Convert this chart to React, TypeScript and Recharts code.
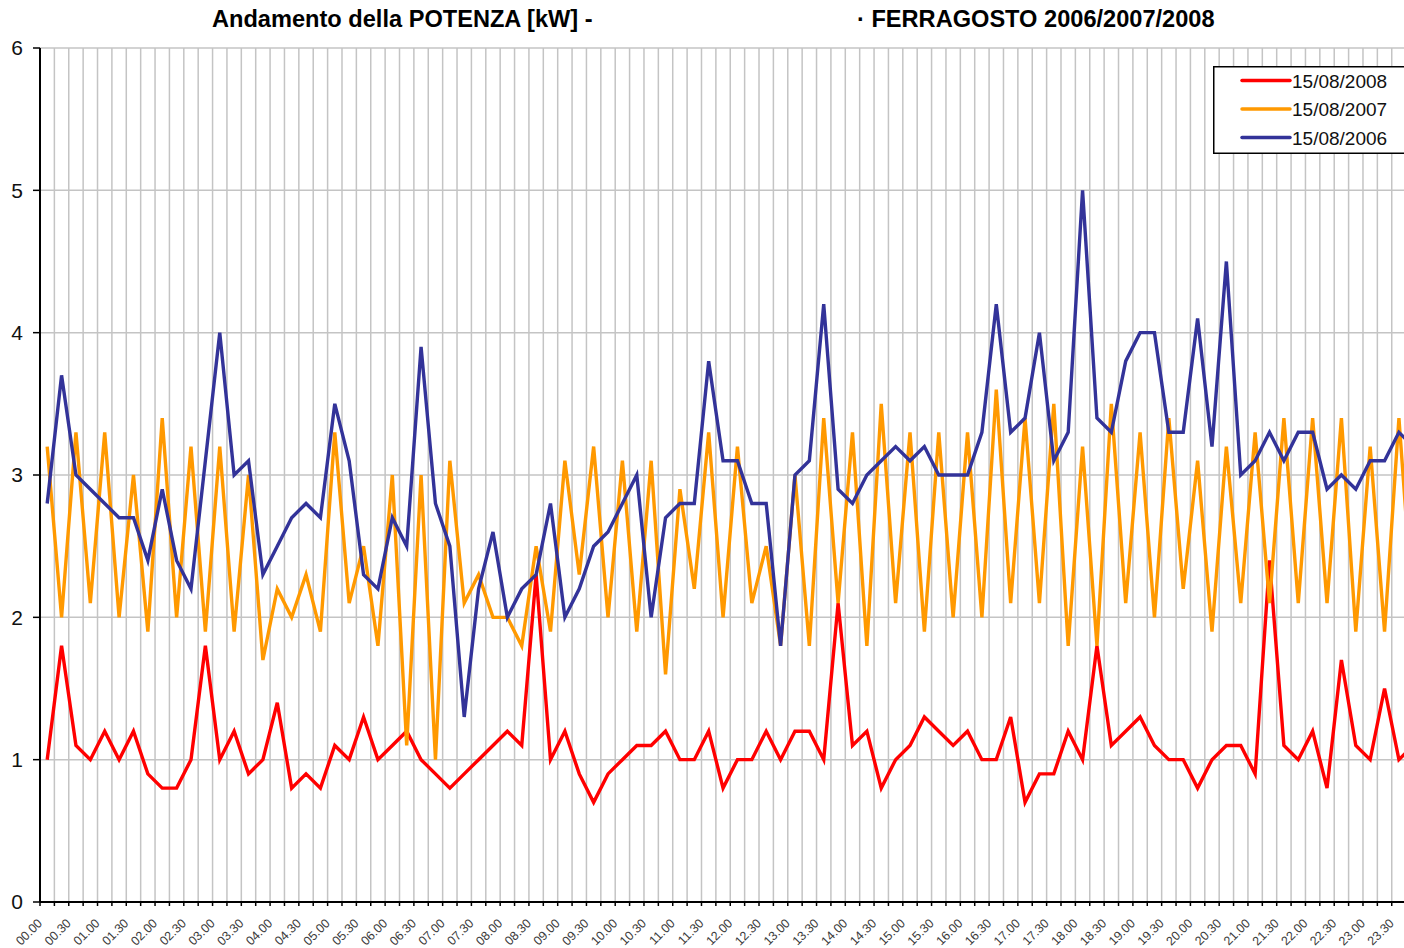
import { LineChart, Line, XAxis, YAxis, CartesianGrid, Legend } from "recharts";

// potenza [kW] ogni 15 minuti, 15/08
const P2008 = [
  1.0, 1.8, 1.1, 1.0, 1.2, 1.0, 1.2, 0.9, 0.8, 0.8, 1.0, 1.8, 1.0, 1.2, 0.9, 1.0,
  1.4, 0.8, 0.9, 0.8, 1.1, 1.0, 1.3, 1.0, 1.1, 1.2, 1.0, 0.9, 0.8, 0.9, 1.0, 1.1,
  1.2, 1.1, 2.3, 1.0, 1.2, 0.9, 0.7, 0.9, 1.0, 1.1, 1.1, 1.2, 1.0, 1.0, 1.2, 0.8,
  1.0, 1.0, 1.2, 1.0, 1.2, 1.2, 1.0, 2.1, 1.1, 1.2, 0.8, 1.0, 1.1, 1.3, 1.2, 1.1,
  1.2, 1.0, 1.0, 1.3, 0.7, 0.9, 0.9, 1.2, 1.0, 1.8, 1.1, 1.2, 1.3, 1.1, 1.0, 1.0,
  0.8, 1.0, 1.1, 1.1, 0.9, 2.4, 1.1, 1.0, 1.2, 0.8, 1.7, 1.1, 1.0, 1.5, 1.0, 1.1,
];

const P2007 = [
  3.2, 2.0, 3.3, 2.1, 3.3, 2.0, 3.0, 1.9, 3.4, 2.0, 3.2, 1.9, 3.2, 1.9, 3.0, 1.7,
  2.2, 2.0, 2.3, 1.9, 3.3, 2.1, 2.5, 1.8, 3.0, 1.1, 3.0, 1.0, 3.1, 2.1, 2.3, 2.0,
  2.0, 1.8, 2.5, 1.9, 3.1, 2.3, 3.2, 2.0, 3.1, 1.9, 3.1, 1.6, 2.9, 2.2, 3.3, 2.0,
  3.2, 2.1, 2.5, 1.8, 3.0, 1.8, 3.4, 2.1, 3.3, 1.8, 3.5, 2.1, 3.3, 1.9, 3.3, 2.0,
  3.3, 2.0, 3.6, 2.1, 3.4, 2.1, 3.5, 1.8, 3.2, 1.8, 3.5, 2.1, 3.3, 2.0, 3.4, 2.2,
  3.1, 1.9, 3.2, 2.1, 3.3, 2.1, 3.4, 2.1, 3.4, 2.1, 3.4, 1.9, 3.2, 1.9, 3.4, 2.0,
];

const P2006 = [
  2.8, 3.7, 3.0, 2.9, 2.8, 2.7, 2.7, 2.4, 2.9, 2.4, 2.2, 3.1, 4.0, 3.0, 3.1, 2.3,
  2.5, 2.7, 2.8, 2.7, 3.5, 3.1, 2.3, 2.2, 2.7, 2.5, 3.9, 2.8, 2.5, 1.3, 2.2, 2.6,
  2.0, 2.2, 2.3, 2.8, 2.0, 2.2, 2.5, 2.6, 2.8, 3.0, 2.0, 2.7, 2.8, 2.8, 3.8, 3.1,
  3.1, 2.8, 2.8, 1.8, 3.0, 3.1, 4.2, 2.9, 2.8, 3.0, 3.1, 3.2, 3.1, 3.2, 3.0, 3.0,
  3.0, 3.3, 4.2, 3.3, 3.4, 4.0, 3.1, 3.3, 5.0, 3.4, 3.3, 3.8, 4.0, 4.0, 3.3, 3.3,
  4.1, 3.2, 4.5, 3.0, 3.1, 3.3, 3.1, 3.3, 3.3, 2.9, 3.0, 2.9, 3.1, 3.1, 3.3, 3.2,
];

const TIME_LABELS = [
  "00.00", "00.30", "01.00", "01.30", "02.00", "02.30", "03.00", "03.30",
  "04.00", "04.30", "05.00", "05.30", "06.00", "06.30", "07.00", "07.30",
  "08.00", "08.30", "09.00", "09.30", "10.00", "10.30", "11.00", "11.30",
  "12.00", "12.30", "13.00", "13.30", "14.00", "14.30", "15.00", "15.30",
  "16.00", "16.30", "17.00", "17.30", "18.00", "18.30", "19.00", "19.30",
  "20.00", "20.30", "21.00", "21.30", "22.00", "22.30", "23.00", "23.30",
];

const Y_TICKS = [0, 1, 2, 3, 4, 5, 6];

const SERIES = [
  { key: "d2008", name: "15/08/2008", color: "#FF0000" },
  { key: "d2007", name: "15/08/2007", color: "#FF9900" },
  { key: "d2006", name: "15/08/2006", color: "#333399" },
];

const FONT = "'Liberation Sans', Arial, sans-serif";

// each point sits in the middle of its 15-minute slot
const data = P2008.map((v, i) => ({
  x: i + 0.5,
  d2008: v,
  d2007: P2007[i],
  d2006: P2006[i],
}));

const slotTicks = Array.from({ length: 97 }, (_, k) => k);

function TimeTick(props: any) {
  const { x, y, payload } = props;
  const k = payload.value;
  if (k % 2 !== 0 || k / 2 >= TIME_LABELS.length) return <g />;
  const tx = x + 3;
  const ty = y + 18;
  return (
    <text
      x={tx}
      y={ty}
      textAnchor="end"
      transform={`rotate(-45, ${tx}, ${ty})`}
      fontSize={12.5}
      fontFamily={FONT}
      fill="#3a3a3a"
    >
      {TIME_LABELS[k / 2]}
    </text>
  );
}

function LegendBox() {
  return (
    <svg width={210} height={88} style={{ display: "block" }}>
      <rect x={0.75} y={0.75} width={220} height={86.5} fill="#fff" stroke="#000" strokeWidth={1.5} />
      {SERIES.map((s, i) => {
        const cy = 14.5 + i * 28.5;
        return (
          <g key={s.key}>
            <line x1={29} y1={cy} x2={77} y2={cy} stroke={s.color} strokeWidth={3.5} strokeLinecap="round" />
            <text x={79} y={cy + 7} fontSize={19} fontFamily={FONT} fill="#111">
              {s.name}
            </text>
          </g>
        );
      })}
    </svg>
  );
}

const titleStyle = {
  position: "absolute" as const,
  top: 8,
  fontSize: 23.6,
  lineHeight: "23px",
  fontWeight: "bold" as const,
  whiteSpace: "nowrap" as const,
};

export default function App() {
  return (
    <div
      style={{
        position: "absolute",
        left: 0,
        top: 0,
        width: 1404,
        height: 948,
        overflow: "hidden",
        background: "#fff",
        fontFamily: FONT,
      }}
    >
      <div style={{ ...titleStyle, left: 212 }}>Andamento della POTENZA [kW] -</div>
      <div style={{ ...titleStyle, left: 857 }}>· FERRAGOSTO 2006/2007/2008</div>
      <LineChart
        width={1440}
        height={948}
        data={data}
        margin={{ top: 48, right: 19.5, bottom: 6, left: 10 }}
      >
        <CartesianGrid stroke="#c4c4c4" strokeWidth={1.5} />
        <XAxis
          dataKey="x"
          type="number"
          domain={[0, 96]}
          ticks={slotTicks}
          interval={0}
          height={40}
          tickSize={4}
          tickMargin={0}
          tick={<TimeTick />}
          axisLine={{ stroke: "#000", strokeWidth: 2 }}
          tickLine={{ stroke: "#000", strokeWidth: 1.5 }}
        />
        <YAxis
          type="number"
          domain={[0, 6]}
          ticks={Y_TICKS}
          interval={0}
          width={30}
          tickSize={7}
          tickMargin={10}
          tick={{ fontSize: 21, fill: "#111", fontFamily: FONT }}
          axisLine={{ stroke: "#000", strokeWidth: 2 }}
          tickLine={{ stroke: "#000", strokeWidth: 1.5 }}
        />
        <Legend
          layout="vertical"
          align="center"
          verticalAlign="middle"
          content={() => <LegendBox />}
          wrapperStyle={{ position: "absolute", left: 1213, top: 66, width: 210, height: 88 }}
        />
        {SERIES.map((s) => (
          <Line
            key={s.key}
            dataKey={s.key}
            name={s.name}
            type="linear"
            stroke={s.color}
            strokeWidth={3.4}
            dot={false}
            activeDot={false}
            isAnimationActive={false}
          />
        ))}
      </LineChart>
    </div>
  );
}
